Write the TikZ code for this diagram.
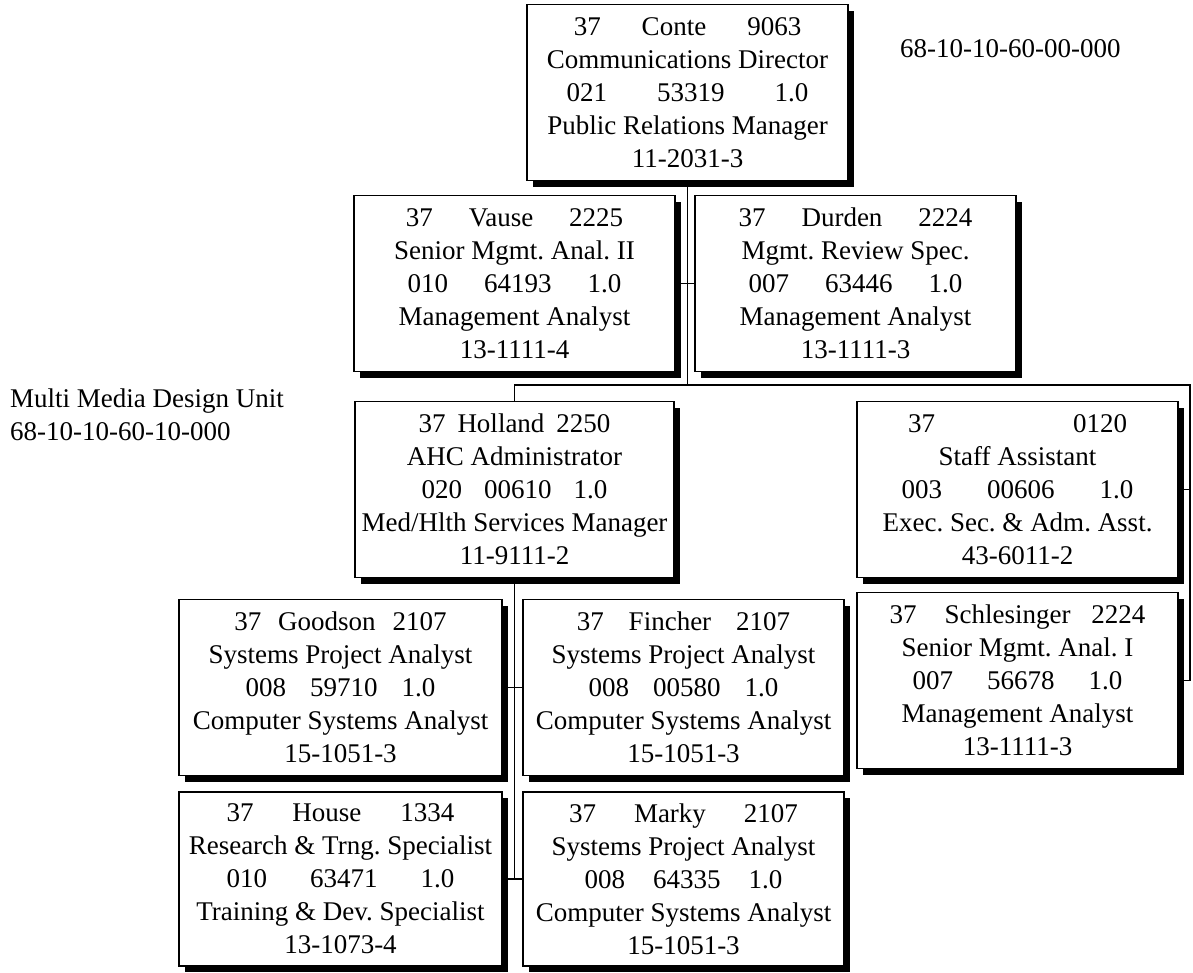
\documentclass[tikz,border=0pt]{standalone}
\usepackage{fontspec}
\setmainfont{Liberation Serif}
\usetikzlibrary{shadows,backgrounds}

% gap between the fields of one line
\newcommand{\fgap}[1]{\hspace{#1pt}}

\tikzset{
  empbox/.style={draw=black, line width=1.6pt, fill=white,
    minimum width=321pt, minimum height=176pt, inner sep=0pt,
    align=center, font=\fontsize{27}{33}\selectfont\frenchspacing,
    drop shadow={shadow xshift=6pt, shadow yshift=-6pt, fill=black, opacity=1}},
  link/.style={line width=1.9pt, line cap=rect},
  unitlabel/.style={anchor=base west, inner sep=0pt, font=\fontsize{27}{33}\selectfont}
}

\begin{document}
\begin{tikzpicture}[x=1pt, y=-1pt]
\useasboundingbox (0,0) rectangle (1193,972);

% employee boxes
\node[empbox] (conte) at (687.5,92.5)
  {37\fgap{41}Conte\fgap{41}9063\\Communications Director\\021\fgap{50}53319\fgap{50}1.0\\Public Relations Manager\\11-2031-3};
\node[empbox] (vause) at (514.5,283.5)
  {37\fgap{36}Vause\fgap{36}2225\\Senior Mgmt. Anal. II\\010\fgap{36}64193\fgap{36}1.0\\Management Analyst\\13-1111-4};
\node[empbox] (durden) at (855.5,283.5)
  {37\fgap{36}Durden\fgap{36}2224\\Mgmt. Review Spec.\\007\fgap{36}63446\fgap{36}1.0\\Management Analyst\\13-1111-3};
\node[empbox, minimum width=319pt] (holland) at (514.5,489.5)
  {37\fgap{12}Holland\fgap{12}2250\\AHC Administrator\\020\fgap{22}00610\fgap{22}1.0\\Med/Hlth Services Manager\\11-9111-2};
\node[empbox] (staff) at (1017.5,489.5)
  {37\fgap{138}0120\\Staff Assistant\\003\fgap{45}00606\fgap{45}1.0\\Exec. Sec. \& Adm. Asst.\\43-6011-2};
\node[empbox] (schles) at (1017.5,680.5)
  {37\fgap{28}Schlesinger\fgap{21}2224\\Senior Mgmt. Anal. I\\007\fgap{34}56678\fgap{34}1.0\\Management Analyst\\13-1111-3};
\node[empbox, minimum width=323pt] (goodson) at (340.5,687.5)
  {37\fgap{17}Goodson\fgap{17}2107\\Systems Project Analyst\\008\fgap{24}59710\fgap{24}1.0\\Computer Systems Analyst\\15-1051-3};
\node[empbox] (fincher) at (683.5,687.5)
  {37\fgap{25}Fincher\fgap{25}2107\\Systems Project Analyst\\008\fgap{24}00580\fgap{24}1.0\\Computer Systems Analyst\\15-1051-3};
\node[empbox, minimum width=323pt, minimum height=174pt] (house) at (340.5,879)
  {37\fgap{39}House\fgap{39}1334\\Research \& Trng. Specialist\\010\fgap{43}63471\fgap{43}1.0\\Training \& Dev. Specialist\\13-1073-4};
\node[empbox, minimum height=174pt] (marky) at (683.5,879)
  {37\fgap{38}Marky\fgap{38}2107\\Systems Project Analyst\\008\fgap{28}64335\fgap{28}1.0\\Computer Systems Analyst\\15-1051-3};

% unit labels
\node[unitlabel] (deptcode) at (900,57) {68-10-10-60-00-000};
\node[unitlabel] (unitname) at (10,407) {Multi Media Design Unit};
\node[unitlabel] (unitcode) at (10,440) {68-10-10-60-10-000};

% reporting lines
\coordinate (busL) at (514.5,385);
\coordinate (busR) at (1190,385);
\begin{scope}[on background layer]
  \draw[link] (conte.south) -- (conte.south |- busL);
  \draw[link] (busL) -- (busR);
  \draw[link] (busL) -- (holland.north);
  \draw[link] (busR) -- (busR |- schles.east) -- (schles.east);
  \draw[link] (staff.east) -- (staff.east -| busR);
  \draw[link] (vause.east) -- (durden.west);
  \draw[link] (holland.south) -- (holland.south |- house.east);
  \draw[link] (goodson.east) -- (fincher.west);
  \draw[link] (house.east) -- (marky.west);
\end{scope}
\end{tikzpicture}
\end{document}
